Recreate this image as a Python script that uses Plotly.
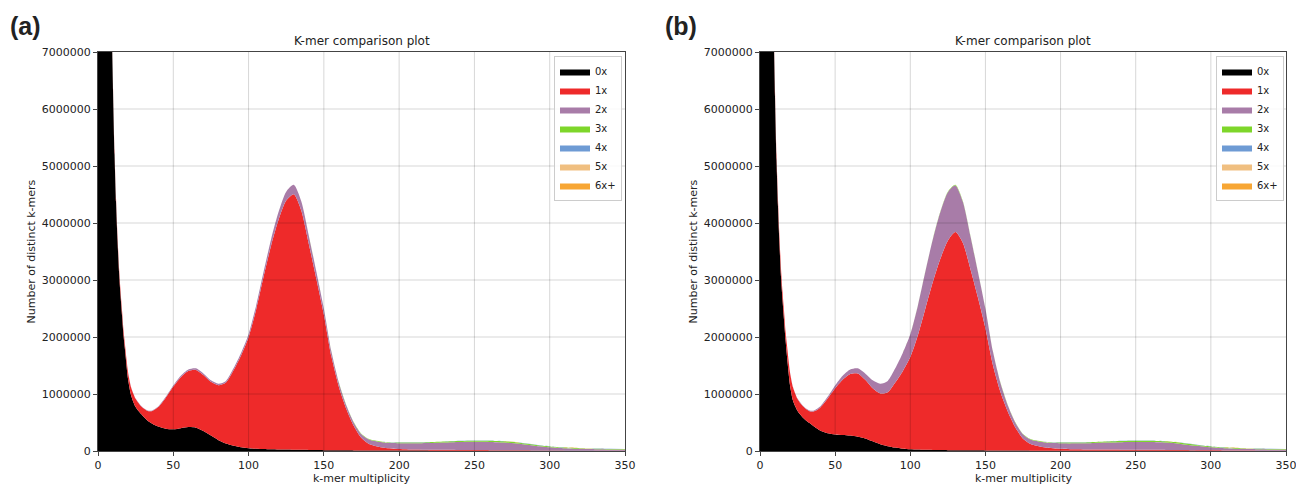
import plotly.graph_objects as go

# k-mer multiplicity sample points
mult = [0, 2, 4, 6, 8, 9, 10, 11, 12, 13, 14, 15, 16, 17, 18, 20, 22, 25, 28, 30,
        33, 36, 40, 45, 50, 55, 60, 65, 70, 75, 80, 85, 90, 95, 100, 105, 110, 115,
        120, 125, 130, 135, 140, 145, 150, 155, 160, 165, 170, 175, 180, 190, 200,
        210, 220, 230, 240, 250, 260, 270, 280, 290, 300, 310, 320, 330, 340, 350]

labels = ["0x", "1x", "2x", "3x", "4x", "5x", "6x+"]
colors = ["#000000", "#ee2a2a", "#a87ca8", "#7ed62a", "#6e9bd4", "#f0bf80", "#f7a634"]

x_ticks = [0, 50, 100, 150, 200, 250, 300, 350]
y_ticks = [0, 1000000, 2000000, 3000000, 4000000, 5000000, 6000000, 7000000]

# ---------- panel (a) values, millions of distinct k-mers ----------
a_0x = [25.0, 20.0, 15.0, 11.0, 8.6, 7.6, 6.3, 5.2, 4.36, 3.68,
        3.13, 2.72, 2.37, 2.015, 1.76, 1.255, 0.975, 0.77, 0.665, 0.61,
        0.53, 0.48, 0.43, 0.39, 0.38, 0.40, 0.42, 0.41, 0.35, 0.27,
        0.19, 0.13, 0.09, 0.065, 0.05, 0.04, 0.035, 0.03, 0.027, 0.025,
        0.022, 0.02, 0.018, 0.016, 0.014, 0.013, 0.012, 0.011, 0.01, 0.01,
        0.009, 0.008, 0.007, 0.007, 0.006, 0.006, 0.005, 0.005, 0.005, 0.004,
        0.004, 0.004, 0.003, 0.003, 0.003, 0.002, 0.002, 0.002]
a_1x = [0, 0, 0, 0, 0, 0.05, 0.05, 0.06, 0.06, 0.07,
        0.07, 0.08, 0.08, 0.085, 0.085, 0.12, 0.14, 0.145, 0.139, 0.144,
        0.173, 0.222, 0.34, 0.545, 0.75, 0.895, 0.982, 1.012, 0.984, 0.945,
        0.965, 1.072, 1.325, 1.61, 1.945, 2.44, 3.025, 3.58, 4.038, 4.37,
        4.483, 4.2, 3.614, 3.006, 2.377, 1.648, 1.113, 0.723, 0.423, 0.217,
        0.116, 0.05, 0.029, 0.018, 0.015, 0.014, 0.012, 0.011, 0.01, 0.008,
        0.008, 0.005, 0.005, 0.003, 0.003, 0.003, 0.003, 0.003]
a_2x = [0, 0, 0, 0, 0, 0, 0, 0, 0, 0,
        0, 0, 0, 0.003, 0.005, 0.005, 0.005, 0.005, 0.006, 0.006,
        0.007, 0.008, 0.01, 0.015, 0.02, 0.025, 0.028, 0.028, 0.026, 0.025,
        0.025, 0.028, 0.035, 0.045, 0.055, 0.07, 0.09, 0.11, 0.135, 0.155,
        0.165, 0.16, 0.145, 0.125, 0.105, 0.085, 0.07, 0.06, 0.06, 0.065,
        0.075, 0.09, 0.1, 0.11, 0.118, 0.128, 0.14, 0.145, 0.145, 0.138,
        0.115, 0.085, 0.058, 0.042, 0.032, 0.026, 0.023, 0.021]
a_3x = [0] * 42 + [0.003, 0.003, 0.004, 0.004, 0.005, 0.006, 0.007, 0.008,
                   0.01, 0.012, 0.014, 0.015, 0.016, 0.017, 0.018, 0.019, 0.02, 0.02,
                   0.018, 0.016, 0.014, 0.012, 0.01, 0.009, 0.008, 0.007]
a_4x = [0] * 50 + [0.001, 0.001, 0.002, 0.002, 0.002, 0.002, 0.003, 0.003, 0.003,
                   0.003, 0.003, 0.003, 0.003, 0.002, 0.002, 0.002, 0.002, 0.002]
a_5x = [0] * 56 + [0.001] * 12
a_6x = [0] * 60 + [0.001] * 8

# ---------- panel (b) values, millions of distinct k-mers ----------
b_0x = [25.0, 20.0, 15.0, 11.0, 8.5, 7.5, 6.2, 5.1, 4.27, 3.6,
        3.05, 2.65, 2.3, 1.95, 1.65, 1.15, 0.88, 0.7, 0.6, 0.55,
        0.49, 0.43, 0.36, 0.31, 0.29, 0.28, 0.27, 0.25, 0.22, 0.17,
        0.12, 0.085, 0.06, 0.04, 0.03, 0.025, 0.02, 0.018, 0.016, 0.015,
        0.014, 0.013, 0.012, 0.011, 0.01, 0.009, 0.008, 0.008, 0.007, 0.007,
        0.006, 0.006, 0.005, 0.005, 0.004, 0.004, 0.004, 0.003, 0.003, 0.003,
        0.003, 0.002, 0.002, 0.002, 0.002, 0.002, 0.001, 0.001]
b_1x = [0, 0, 0, 0, 0.05, 0.07, 0.1, 0.1, 0.12, 0.13,
        0.14, 0.14, 0.15, 0.147, 0.195, 0.224, 0.233, 0.212, 0.201, 0.2,
        0.208, 0.266, 0.4, 0.61, 0.81, 0.97, 1.08, 1.11, 1.03, 0.93,
        0.89, 0.945, 1.14, 1.36, 1.617, 2.001, 2.475, 2.945, 3.356, 3.675,
        3.826, 3.638, 3.18, 2.682, 2.144, 1.495, 1.026, 0.676, 0.401, 0.21,
        0.119, 0.056, 0.035, 0.024, 0.021, 0.021, 0.019, 0.018, 0.017, 0.015,
        0.014, 0.011, 0.009, 0.006, 0.005, 0.004, 0.005, 0.005]
b_2x = [0, 0, 0, 0, 0, 0, 0, 0, 0, 0,
        0, 0, 0, 0.003, 0.005, 0.006, 0.007, 0.008, 0.009, 0.01,
        0.012, 0.014, 0.02, 0.03, 0.05, 0.07, 0.08, 0.09, 0.11, 0.14,
        0.17, 0.2, 0.25, 0.32, 0.4, 0.52, 0.65, 0.75, 0.82, 0.85,
        0.82, 0.72, 0.58, 0.45, 0.34, 0.24, 0.16, 0.11, 0.085, 0.075,
        0.075, 0.085, 0.095, 0.105, 0.113, 0.122, 0.132, 0.137, 0.137, 0.13,
        0.108, 0.08, 0.055, 0.04, 0.031, 0.025, 0.022, 0.02]
b_3x = [0] * 34 + [0.003, 0.004, 0.005, 0.007, 0.008, 0.01, 0.01, 0.009, 0.008,
                   0.007, 0.006, 0.006, 0.006, 0.006, 0.007, 0.008, 0.01, 0.013,
                   0.015, 0.016, 0.017, 0.018, 0.02, 0.022, 0.023, 0.022, 0.02,
                   0.017, 0.014, 0.012, 0.01, 0.009, 0.008, 0.007]
b_4x = [0] * 50 + [0.001, 0.001, 0.002, 0.002, 0.002, 0.002, 0.003, 0.003, 0.003,
                   0.003, 0.003, 0.003, 0.003, 0.002, 0.002, 0.002, 0.002, 0.002]
b_5x = [0] * 56 + [0.001] * 12
b_6x = [0] * 60 + [0.001] * 8

panel_a = [a_0x, a_1x, a_2x, a_3x, a_4x, a_5x, a_6x]
panel_b = [b_0x, b_1x, b_2x, b_3x, b_4x, b_5x, b_6x]

FONT = "DejaVu Sans"
W, H = 1296, 485

# layout geometry (pixels -> paper)
xa_dom = [98 / W, 625 / W]
xb_dom = [760 / W, 1286 / W]
y_dom = [(H - 451) / H, (H - 52) / H]

fig = go.Figure()

for panel, xref, yref, sg, leg in [(panel_a, "x", "y", "a", "legend"),
                                    (panel_b, "x2", "y2", "b", "legend2")]:
    for name, col, vals in zip(labels, colors, panel):
        fig.add_trace(go.Scatter(
            x=mult, y=[v * 1e6 for v in vals], name=name,
            xaxis=xref, yaxis=yref, stackgroup=sg, legend=leg,
            mode="lines", line=dict(width=0, color=col, shape="spline", smoothing=0.7),
            fillcolor=col, hoverinfo="skip",
        ))

axis_common = dict(
    showgrid=False, zeroline=False, showline=True, mirror=True,
    linecolor="#444444", linewidth=1, ticks="outside", ticklen=4,
    tickcolor="#444444", tickfont=dict(family=FONT, size=11, color="#222222"),
    automargin=False, ticklabeloverflow="allow",
)

legend_common = dict(
    xanchor="right", yanchor="top", y=(H - 56) / H,
    bgcolor="rgba(255,255,255,0.85)", bordercolor="#cccccc", borderwidth=1,
    font=dict(family=FONT, size=10, color="#222222"), tracegroupgap=0,
    itemwidth=30, traceorder="normal",
)

fig.update_layout(
    width=W, height=H, margin=dict(l=0, r=0, t=0, b=0, pad=0),
    paper_bgcolor="white", plot_bgcolor="white",
    xaxis=dict(domain=xa_dom, range=[0, 350], tickvals=x_ticks, anchor="y", **axis_common),
    yaxis=dict(domain=y_dom, range=[0, 7000000], tickvals=y_ticks, tickformat="d",
               anchor="x", **axis_common),
    xaxis2=dict(domain=xb_dom, range=[0, 350], tickvals=x_ticks, anchor="y2", **axis_common),
    yaxis2=dict(domain=y_dom, range=[0, 7000000], tickvals=y_ticks, tickformat="d",
                anchor="x2", **axis_common),
    legend=dict(x=622 / W, **legend_common),
    legend2=dict(x=1284 / W, **legend_common),
    showlegend=True,
)

# gridlines drawn above the filled areas (as in the reference)
shapes = []
for xr, yr in [("x", "y"), ("x2", "y2")]:
    for t in x_ticks[1:-1]:
        shapes.append(dict(type="line", xref=xr, yref=yr + " domain", x0=t, x1=t, y0=0, y1=1,
                           line=dict(color="rgba(0,0,0,0.16)", width=1), layer="above"))
    for t in y_ticks[1:-1]:
        shapes.append(dict(type="line", xref=xr + " domain", yref=yr, x0=0, x1=1, y0=t, y1=t,
                           line=dict(color="rgba(0,0,0,0.16)", width=1), layer="above"))
fig.update_layout(shapes=shapes)

annotations = []
for dom, lab, lx in [(xa_dom, "(a)", 8 / W), (xb_dom, "(b)", 663 / W)]:
    mid = (dom[0] + dom[1]) / 2
    annotations.append(dict(text="K-mer comparison plot", x=mid, y=(H - 41) / H,
                            xref="paper", yref="paper", showarrow=False,
                            xanchor="center", yanchor="middle",
                            font=dict(family=FONT, size=12, color="#222222")))
    annotations.append(dict(text="k-mer multiplicity", x=mid, y=(H - 478) / H,
                            xref="paper", yref="paper", showarrow=False,
                            xanchor="center", yanchor="middle",
                            font=dict(family=FONT, size=11, color="#222222")))
    annotations.append(dict(text="Number of distinct k-mers", x=dom[0] - 67 / W,
                            y=(y_dom[0] + y_dom[1]) / 2, xref="paper", yref="paper",
                            showarrow=False, textangle=-90,
                            xanchor="center", yanchor="middle",
                            font=dict(family=FONT, size=11, color="#222222")))
    annotations.append(dict(text="<b>" + lab + "</b>", x=lx, y=(H - 26) / H,
                            xref="paper", yref="paper", xanchor="left", yanchor="middle",
                            showarrow=False,
                            font=dict(family="Liberation Sans", size=25, color="#222222")))
fig.update_layout(annotations=annotations)

# remove the browser's default 8px body margin so the figure sits at (0, 0)
fig.write_html("out.html", config={"displayModeBar": False},
               post_script="document.body.style.margin='0px';")
